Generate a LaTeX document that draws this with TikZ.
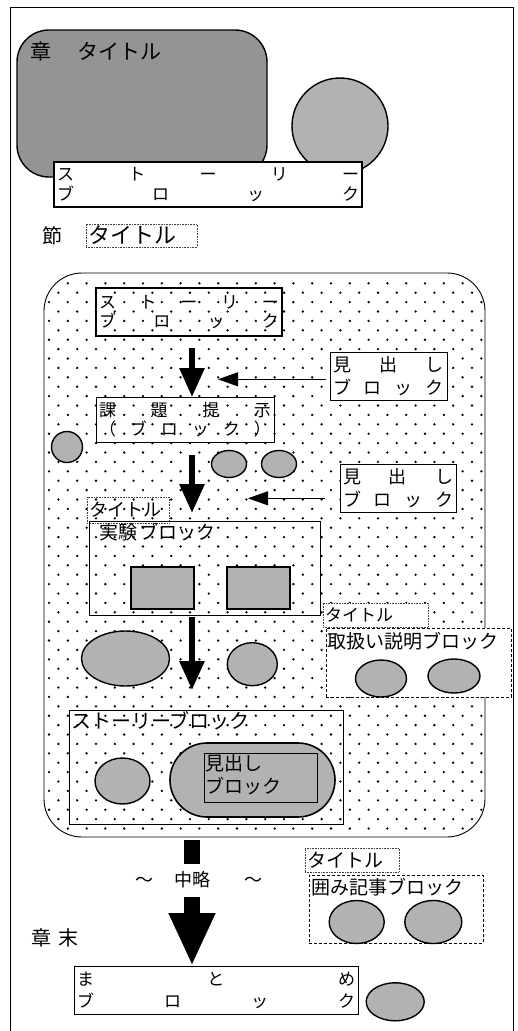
\documentclass[tikz,border=0pt]{standalone}
\usepackage{fontspec}
\setmainfont{Noto Sans CJK JP}
\usetikzlibrary{arrows.meta,shapes.geometric}
\newcommand\jfs[2]{\fontsize{#1pt}{#2pt}\selectfont}
\newcommand\sprd[2]{\hbox to #1pt{#2}}
\definecolor{htdark}{gray}{0.58}
\definecolor{htlight}{gray}{0.7}
\begin{document}
\begin{tikzpicture}[x=1pt,y=-1pt,inner sep=0pt,outer sep=0pt,
  box/.style={draw,line width=0.8pt,align=center},
  thickbox/.style={draw,line width=1.7pt,align=center},
  dotbox/.style={draw=black!75,densely dotted,line width=0.6pt,align=left},
  dashbox/.style={draw,dash pattern=on 3pt off 2pt,line width=0.7pt,fill=white},
  blob/.style={draw,ellipse,line width=1.4pt,fill=htlight},
  txt/.style={anchor=west},
  varrow/.style={line width=6pt,-{Triangle[width=24pt,length=29pt]}},
  harrow/.style={line width=0.8pt,-{Triangle[width=14pt,length=20pt]}},
  bigarrow/.style={line width=16pt,-{Triangle[width=43pt,length=53pt]}}]
\useasboundingbox (0,0) rectangle (518,1031);
\fill[white] (0,0) rectangle (518,1031);
% outer frame
\draw[line width=0.8pt] (10,1040) -- (10,7) -- (513,7) -- (513,1040);

% chapter title block
\node[draw,line width=1.4pt,rounded corners=32pt,fill=htdark,minimum width=250pt,minimum height=147pt] (chap) at (142,103.5) {};
\node[txt,font=\jfs{21}{21}] (chapt) at (30,52) {章\hspace{27pt}タイトル};
\node[draw,circle,line width=1.4pt,fill=htlight,minimum size=96pt] (bigc) at (340,126) {};
\node[thickbox,fill=white,minimum width=308pt,minimum height=45pt,font=\jfs{17}{20}] (story1) at (208,184.5)
  {\sprd{302}{ス\hfill ト\hfill ー\hfill リ\hfill ー}\\\sprd{302}{ブ\hfill ロ\hfill ッ\hfill ク}};

% section title
\node[txt,font=\jfs{20}{20}] (setsu) at (42,236) {節};
\node[dotbox,minimum width=111pt,minimum height=23pt,font=\jfs{22}{22}] (title1) at (141.5,235.5) {\sprd{107}{タイトル\hfil}};

% section region
\node[draw,line width=0.9pt,rounded corners=38pt,minimum width=441pt,minimum height=564pt] (sect) at (264.5,555) {};
\begin{scope}
\clip[rounded corners=38pt] (44,273) rectangle (485,837);
\foreach \k in {0,...,58}{
  \pgfmathsetmacro\yy{283.3+9.4*\k}
  \pgfmathsetmacro\xo{49+9.4*mod(\k,2)}
  \foreach \m in {0,...,23}{
    \fill (\xo+18.8*\m,\yy) circle[radius=1.3pt];
  }
}
\end{scope}
\coordinate (ax) at (192,0);

\node[thickbox,minimum width=186pt,minimum height=48pt,font=\jfs{17}{19}] (story2) at (189,312)
  {\sprd{180}{ス\hfill ト\hfill ー\hfill リ\hfill ー}\\\sprd{180}{ブ\hfill ロ\hfill ッ\hfill ク}};
\node[box,fill=white,minimum width=117pt,minimum height=48pt,font=\jfs{18}{23}] (mid1) at (388.5,376)
  {\sprd{111}{見\hfill 出\hfill し}\\\sprd{111}{ブ\hfill ロ\hfill ッ\hfill ク}};
\node[box,minimum width=178pt,minimum height=45pt,font=\jfs{17}{19}] (kadai) at (185,419.5)
  {\sprd{172}{課\hfill 題\hfill 提\hfill 示}\\\sprd{172}{（\hfill ブ\hfill ロ\hfill ッ\hfill ク\hfill ）}};
\node[blob,minimum width=31pt,minimum height=31pt] (c1) at (67,447) {};
\node[blob,minimum width=35pt,minimum height=27pt] (e1) at (229,464) {};
\node[blob,minimum width=35pt,minimum height=27pt] (e2) at (279,464) {};
\node[box,fill=white,minimum width=116pt,minimum height=48pt,font=\jfs{18}{23}] (mid2) at (398,488)
  {\sprd{110}{見\hfill 出\hfill し}\\\sprd{110}{ブ\hfill ロ\hfill ッ\hfill ク}};
\node[dotbox,minimum width=82pt,minimum height=26pt,font=\jfs{18}{18}] (title2) at (128,510) {\sprd{78}{タイトル\hfil}};

\node[box,line width=0.7pt,minimum width=231pt,minimum height=94pt] (jikken) at (204.5,568) {};
\node[txt,font=\jfs{19}{19}] (jikkent) at (99,532) {実験\hspace{3pt}ブロック};
\node[draw,line width=1.8pt,fill=htlight,minimum width=63pt,minimum height=42pt] (r1) at (162.5,588) {};
\node[draw,line width=1.8pt,fill=htlight,minimum width=63pt,minimum height=42pt] (r2) at (258.5,588) {};

\node[blob,minimum width=88pt,minimum height=55pt] (e3) at (125.5,658.5) {};
\node[blob,minimum width=50pt,minimum height=43pt] (e4) at (252.3,664.2) {};

\node[dotbox,fill=white,minimum width=105pt,minimum height=24pt,font=\jfs{17}{17}] (title3) at (375.5,615) {\sprd{101}{タイトル\hfil}};
\node[dashbox,minimum width=185pt,minimum height=69pt] (tori) at (418.5,662.5) {};
\node[txt,font=\jfs{19}{19}] (torit) at (327,641) {取扱い説明ブロック};
\node[blob,minimum width=51pt,minimum height=37pt] (e5) at (381,678.5) {};
\node[blob,minimum width=52pt,minimum height=34pt] (e6) at (454,676) {};

\node[box,line width=0.7pt,minimum width=274pt,minimum height=114pt] (storyB) at (206,767) {};
\node[txt,font=\jfs{20}{20}] (storyBt) at (71,721) {ストーリーブロック};
\node[blob,minimum width=55pt,minimum height=46pt] (e7) at (122.5,781) {};
\node[draw,line width=1.6pt,rounded corners=37pt,fill=htlight,minimum width=165pt,minimum height=74pt] (stad) at (252.5,780) {};
\node[box,line width=0.6pt,minimum width=113pt,minimum height=49pt] (stadin) at (260.5,777.5) {};
\node[txt,font=\jfs{19}{19}] (stadt1) at (205,763) {見出し};
\node[txt,font=\jfs{19}{19}] (stadt2) at (205,786) {ブロック};

% vertical flow arrows
\draw[varrow,shorten <=12pt] (story2.south -| ax) -- (kadai.north -| ax);
\draw[varrow,shorten <=13pt,shorten >=8pt] (kadai.south -| ax) -- (jikken.north -| ax);
\draw[varrow,shorten <=2pt,shorten >=20pt] (jikken.south -| ax) -- (storyB.north -| ax);
% horizontal arrows
\coordinate (h1) at (218,379.3);
\coordinate (h2) at (248,498.3);
\draw[harrow,shorten <=4pt] ([yshift=-3.3pt]mid1.west) -- (h1);
\draw[harrow,shorten <=15pt] ([yshift=-10.3pt]mid2.west) -- (h2);

% chapter end
\node[box,minimum width=284pt,minimum height=48pt,font=\jfs{17}{22}] (matome) at (216,990)
  {\sprd{278}{ま\hfill と\hfill め}\\\sprd{278}{ブ\hfill ロ\hfill ッ\hfill ク}};
\draw[bigarrow,shorten <=3pt] (sect.south -| ax) -- (matome.north -| ax);
\node[fill=white,minimum width=44pt,minimum height=33pt,font=\jfs{18}{18}] (chu) at (192,880) {中略};
\node[font=\jfs{18}{18}] (t1) at (144,882) {～};
\node[font=\jfs{18}{18}] (t2) at (253,882) {～};
\node[txt,font=\jfs{20}{20}] (shoumatsu) at (31,938) {章\hspace{7pt}末};
\node[blob,minimum width=58pt,minimum height=38pt] (e10) at (395.2,1001.8) {};

\node[dotbox,minimum width=94pt,minimum height=24pt,font=\jfs{19}{19}] (title4) at (352,860) {\sprd{90}{タイトル\hfil}};
\node[dashbox,minimum width=174pt,minimum height=68pt] (kakomi) at (396,909) {};
\node[txt,font=\jfs{19}{19}] (kakomit) at (311,887) {囲み記事ブロック};
\node[blob,minimum width=55pt,minimum height=43pt] (e8) at (356.7,922) {};
\node[blob,minimum width=57pt,minimum height=43pt] (e9) at (433.3,922) {};
\end{tikzpicture}
\end{document}
